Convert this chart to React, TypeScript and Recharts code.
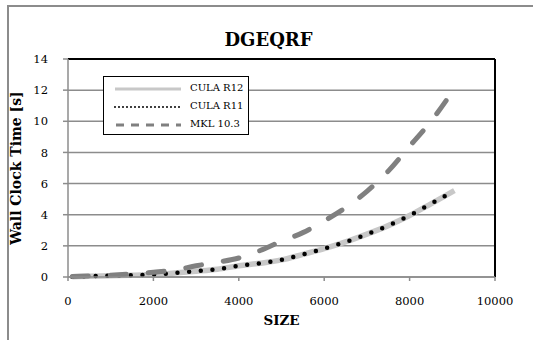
import React from 'react';
import { LineChart, Line, XAxis, YAxis, CartesianGrid, ReferenceLine, Label } from 'recharts';

const sizes = [100, 500, 1000, 1500, 2000, 2500, 3000, 3500, 4000, 4500, 5000, 5500, 6000, 6500, 7000, 7500, 8000, 8500, 9050];
const culaR12 = [0.02, 0.05, 0.08, 0.11, 0.16, 0.26, 0.37, 0.5, 0.72, 0.88, 1.1, 1.45, 1.82, 2.25, 2.75, 3.3, 3.95, 4.7, 5.55];
const culaR11 = [0.02, 0.05, 0.08, 0.11, 0.16, 0.26, 0.37, 0.5, 0.72, 0.88, 1.1, 1.45, 1.82, 2.25, 2.75, 3.3, 3.95, 4.7, 5.55];
const mkl = [0.03, 0.06, 0.12, 0.2, 0.3, 0.45, 0.72, 0.95, 1.22, 1.7, 2.3, 2.85, 3.6, 4.45, 5.5, 6.8, 8.4, 10.0, 12.1];
const xTicks = [0, 2000, 4000, 6000, 8000, 10000];
const yTicks = [0, 2, 4, 6, 8, 10, 12, 14];
const seriesNames = ['CULA R12', 'CULA R11', 'MKL 10.3'];

const data = sizes.map((s, i) => ({ size: s, r12: culaR12[i], r11: culaR11[i], mkl: mkl[i] }));

const FONT = '"DejaVu Serif", serif';

export default function App() {
  return (
    <div style={{ position: 'absolute', left: 0, top: 0, width: 533, height: 340, background: '#fff', overflow: 'hidden', fontFamily: FONT }}>
      <div style={{ position: 'absolute', left: 7, top: 5, width: 540, height: 350, borderLeft: '2px solid #8c8c8c', borderTop: '2px solid #8c8c8c' }} />
      <div style={{ position: 'absolute', left: 0, top: 29, width: 537, textAlign: 'center', fontWeight: 'bold', fontSize: 18, color: '#000' }}>DGEQRF</div>
      <LineChart width={533} height={340} data={data} margin={{ top: 59, right: 38, bottom: 0, left: 0 }} style={{ position: 'absolute', left: 0, top: 0 }}>
        <CartesianGrid horizontal vertical={false} stroke="#8c8c8c" strokeWidth={1.5} />
        <XAxis dataKey="size" type="number" domain={[0, 10000]} ticks={xTicks} height={63} axisLine={{ stroke: '#8c8c8c', strokeWidth: 1.5 }} tickLine={{ stroke: '#8c8c8c', strokeWidth: 1.5 }} tickSize={4} tickMargin={16} tick={{ fill: '#000', fontSize: 11.5, fontFamily: FONT }} interval={0}>
          <Label value="SIZE" position="insideBottom" offset={15} style={{ fontWeight: 'bold', fontSize: 13.5, fill: '#000', fontFamily: FONT }} />
        </XAxis>
        <YAxis type="number" domain={[0, 14]} ticks={yTicks} width={68} axisLine={{ stroke: '#8c8c8c', strokeWidth: 1.5 }} tickLine={{ stroke: '#8c8c8c', strokeWidth: 1.5 }} tickSize={5} tickMargin={15} tick={{ fill: '#000', fontSize: 11.5, fontFamily: FONT }} interval={0}>
          <Label value="Wall Clock Time [s]" angle={-90} position="insideLeft" offset={16} style={{ fontWeight: 'bold', fontSize: 14, fill: '#000', fontFamily: FONT, textAnchor: 'middle' }} />
        </YAxis>
        <ReferenceLine y={14} stroke="#000" strokeWidth={2} />
        <ReferenceLine x={10000} stroke="#000" strokeWidth={2} />
        <Line type="monotone" dataKey="r12" name={seriesNames[0]} stroke="#c8c8c8" strokeWidth={5.5} dot={false} isAnimationActive={false} />
        <Line type="monotone" dataKey="r11" name={seriesNames[1]} stroke="#000" strokeWidth={4.5} strokeDasharray="0 11.7" strokeLinecap="round" dot={false} isAnimationActive={false} />
        <Line type="monotone" dataKey="mkl" name={seriesNames[2]} stroke="#808080" strokeWidth={5} strokeDasharray="16 22" strokeLinecap="round" dot={false} isAnimationActive={false} />
      </LineChart>
      <div style={{ position: 'absolute', left: 103, top: 76, width: 144, height: 57, border: '1.5px solid #000', background: '#fff' }}>
        {seriesNames.map((n, i) => (
          <div key={n} style={{ position: 'absolute', left: 0, top: 4 + i * 18, height: 18, width: 144 }}>
            <svg width={80} height={18} style={{ position: 'absolute', left: 0, top: 0 }}>
              {i === 0 && <line x1={11} y1={8} x2={77} y2={8} stroke="#c8c8c8" strokeWidth={3} />}
              {i === 1 && <line x1={11} y1={8} x2={77} y2={8} stroke="#000" strokeWidth={2} strokeDasharray="0 4" strokeLinecap="round" />}
              {i === 2 && <line x1={12} y1={8} x2={77} y2={8} stroke="#808080" strokeWidth={3} strokeDasharray="8 7" />}
            </svg>
            <span style={{ position: 'absolute', left: 86, top: 1, fontSize: 10, color: '#000', whiteSpace: 'nowrap' }}>{n}</span>
          </div>
        ))}
      </div>
    </div>
  );
}
